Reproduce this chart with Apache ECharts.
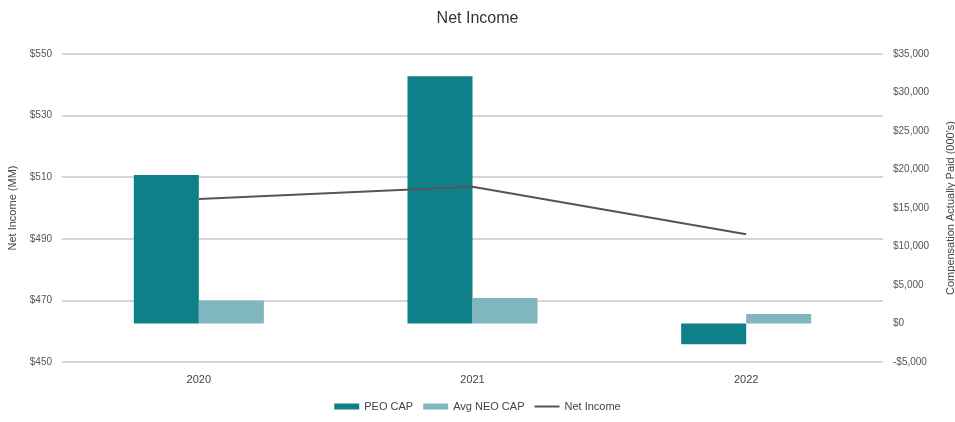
<!DOCTYPE html>
<html>
<head>
<meta charset="utf-8">
<script src="https://cdn.jsdelivr.net/npm/echarts@6/dist/echarts.min.js"></script>
<style>html,body{margin:0;padding:0;background:#fff;}#c{width:955px;height:422px;}</style>
</head>
<body>
<div id="c"></div>
<script>
var categories = ['2020', '2021', '2022'];
var peoCap = [19300, 32100, -2700];
var avgNeoCap = [3000, 3300, 1250];
var netIncome = [502.9, 506.9, 491.5];

var chart = echarts.init(document.getElementById('c'), null, {renderer: 'canvas'});
var font = 'Liberation Sans, Arial, sans-serif';
chart.setOption({
  animation: false,
  textStyle: {fontFamily: font},
  title: {text: 'Net Income', left: 'center', top: 6, textStyle: {fontFamily: font, fontSize: 16, fontWeight: 'normal', color: '#333'}},
  grid: {left: 62, right: 72, top: 54, bottom: 60, containLabel: false, outerBoundsMode: 'none'},
  legend: {
    bottom: 5, left: 'center', itemWidth: 25, itemHeight: 6, itemGap: 10, symbolKeepAspect: true,
    textStyle: {fontFamily: font, fontSize: 11, color: '#444'},
    data: [{name: 'PEO CAP', icon: 'rect'}, {name: 'Avg NEO CAP', icon: 'rect'}, {name: 'Net Income', icon: 'path://M0,0h25v2H0z'}]
  },
  xAxis: {
    type: 'category', data: categories,
    axisLine: {show: false}, axisTick: {show: false},
    axisLabel: {fontFamily: font, fontSize: 11, color: '#444', margin: 12}
  },
  yAxis: [
    {
      type: 'value', min: 450, max: 550, interval: 20, position: 'left',
      name: 'Net Income (MM)', nameLocation: 'middle', nameGap: 42, nameRotate: 90,
      nameTextStyle: {fontFamily: font, fontSize: 11, color: '#444'},
      axisLine: {show: false}, axisTick: {show: false},
      axisLabel: {fontFamily: font, fontSize: 10, color: '#555', margin: 10, formatter: function (v) { return '$' + v; }},
      splitLine: {lineStyle: {color: '#c8c8c8', width: 1.5}}
    },
    {
      type: 'value', min: -5000, max: 35000, interval: 5000, position: 'right',
      name: "Compensation Actually Paid (000's)", nameLocation: 'middle', nameGap: 62, nameRotate: 90,
      nameTextStyle: {fontFamily: font, fontSize: 11, color: '#444'},
      axisLine: {show: false}, axisTick: {show: false}, splitLine: {show: false},
      axisLabel: {fontFamily: font, fontSize: 10, color: '#555', margin: 10,
        formatter: function (v) { var s = Math.abs(v).toLocaleString('en-US'); return (v < 0 ? '-$' : '$') + s; }}
    }
  ],
  series: [
    {name: 'PEO CAP', type: 'bar', yAxisIndex: 1, data: peoCap, barWidth: 65, barGap: '0%', itemStyle: {color: '#0e8088'}},
    {name: 'Avg NEO CAP', type: 'bar', yAxisIndex: 1, data: avgNeoCap, barWidth: 65, barGap: '0%', itemStyle: {color: '#80b6bd'}},
    {name: 'Net Income', type: 'line', yAxisIndex: 0, data: netIncome, symbol: 'none', lineStyle: {color: '#555555', width: 2}, itemStyle: {color: '#555555'}, z: 5}
  ]
});
</script>
</body>
</html>
